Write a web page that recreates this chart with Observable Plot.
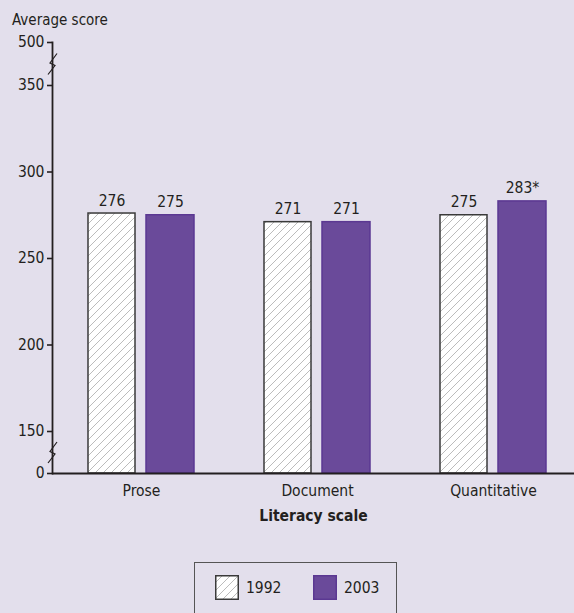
<!DOCTYPE html>
<html>
<head>
<meta charset="utf-8">
<script src="https://cdn.jsdelivr.net/npm/d3@7"></script>
<script src="https://cdn.jsdelivr.net/npm/@observablehq/plot@0.6"></script>
<style>
  html, body { margin: 0; padding: 0; background: #e3dfec; }
  #wrap { position: relative; width: 574px; height: 613px; overflow: hidden;
          font-family: 'Liberation Sans Narrow', 'DejaVu Sans Condensed', sans-serif; color: #231f20; }
  #ytitle { position: absolute; left: 12px; top: 10px; font-size: 15px; line-height: 20px; }
  #chart { position: absolute; left: 0; top: 0; }
  #legend { position: absolute; left: 194px; top: 562px; width: 203px; height: 70px;
            border: 1.5px solid #555; box-sizing: border-box; }
  .item { position: absolute; top: 12px; display: flex; align-items: center; font-size: 15.5px; }
  .item svg { display: block; margin-right: 7px; }
</style>
</head>
<body>
<div id="wrap">
  <div id="chart"></div>
  <div id="ytitle">Average score</div>
  <div id="legend"></div>
</div>
<script>
// Average literacy scores by scale, 1992 and 2003
const literacyScales = ["Prose", "Document", "Quantitative"];
const score1992 = [276, 271, 275];
const score2003 = [275, 271, 283];
const significant2003 = [false, false, true];
const years = ["1992", "2003"];
const yTicks = [0, 150, 200, 250, 300, 350, 500];
const axisBreaks = [75, 425];

const ink = "#231f20";
const purple = "#6a4a9a";
const purpleEdge = "#5b3892";

const rows1992 = literacyScales.map((s, i) => ({scale: s, year: years[0], score: score1992[i], label: String(score1992[i])}));
const rows2003 = literacyScales.map((s, i) => ({scale: s, year: years[1], score: score2003[i], label: score2003[i] + (significant2003[i] ? "*" : "")}));

// zigzag glyph marking a break in the y axis
const breakSymbol = {
  draw(context) {
    context.moveTo(-4.5, 10.5);
    context.lineTo(2.5, 1.5);
    context.lineTo(-2.5, -1);
    context.lineTo(4.5, -10.5);
  }
};

const chart = Plot.plot({
  width: 574,
  height: 545,
  marginLeft: 52,
  marginRight: 0,
  marginTop: 42,
  marginBottom: 72,
  style: {background: "transparent", fontFamily: "'Liberation Sans Narrow', 'DejaVu Sans Condensed', sans-serif", fontSize: "15.5px", color: ink},
  x: {type: "band", domain: literacyScales, range: [53, 581], padding: 0},
  y: {type: "linear", domain: [0, 150, 350, 500], range: [473, 431, 85, 42]},
  marks: [
    Plot.barY(rows1992, {x: "scale", y: "score", fill: "url(#hatch1992)", stroke: "#3a3a3a", strokeWidth: 1.5, insetLeft: 35, insetRight: 94}),
    Plot.barY(rows2003, {x: "scale", y: "score", fill: purple, stroke: purpleEdge, strokeWidth: 1.5, insetLeft: 93, insetRight: 35}),
    Plot.text(rows1992, {x: "scale", y: "score", text: "label", dx: -29.5, dy: -8, lineAnchor: "bottom", fill: ink}),
    Plot.text(rows2003, {x: "scale", y: "score", text: "label", dx: 29, dy: -8, lineAnchor: "bottom", fill: ink}),
    Plot.ruleY([0], {stroke: ink, strokeWidth: 2.2}),
    Plot.frame({anchor: "left", stroke: ink, strokeWidth: 1.8}),
    Plot.dot(axisBreaks, {y: d => d, frameAnchor: "left", symbol: breakSymbol, r: 5, fill: "none", stroke: ink, strokeWidth: 1.2}),
    Plot.axisY({ticks: yTicks, tickSize: 5, tickPadding: 3, label: null, stroke: ink, strokeWidth: 1.6, fill: ink}),
    Plot.axisX({tickSize: 0, tickPadding: 11, label: null, fill: ink}),
    Plot.text(["Literacy scale"], {frameAnchor: "bottom", dy: 47, fontWeight: "bold", fill: ink})
  ]
});

// hatch pattern for the 1992 bars
const defs = d3.select(chart).insert("defs", ":first-child");
const pat = defs.append("pattern")
  .attr("id", "hatch1992").attr("patternUnits", "userSpaceOnUse")
  .attr("width", 8).attr("height", 8);
pat.append("rect").attr("width", 8).attr("height", 8).attr("fill", "#ffffff");
pat.append("path").attr("d", "M-2,2 L2,-2 M0,8 L8,0 M6,10 L10,6")
  .attr("stroke", "#bcbcbc").attr("stroke-width", 1);

document.getElementById("chart").append(chart);

// legend
const legend = d3.select("#legend");
const swatchLeft = [20, 118];
years.forEach((yr, i) => {
  const item = legend.append("div").attr("class", "item").style("left", swatchLeft[i] + "px");
  const sw = item.append("svg").attr("width", 24).attr("height", 25);
  sw.append("rect").attr("x", 0.75).attr("y", 0.75).attr("width", 22.5).attr("height", 23.5)
    .attr("fill", i === 0 ? "url(#hatch1992)" : purple)
    .attr("stroke", i === 0 ? "#3a3a3a" : purpleEdge).attr("stroke-width", 1.5);
  item.append("span").text(yr);
});
</script>
</body>
</html>
